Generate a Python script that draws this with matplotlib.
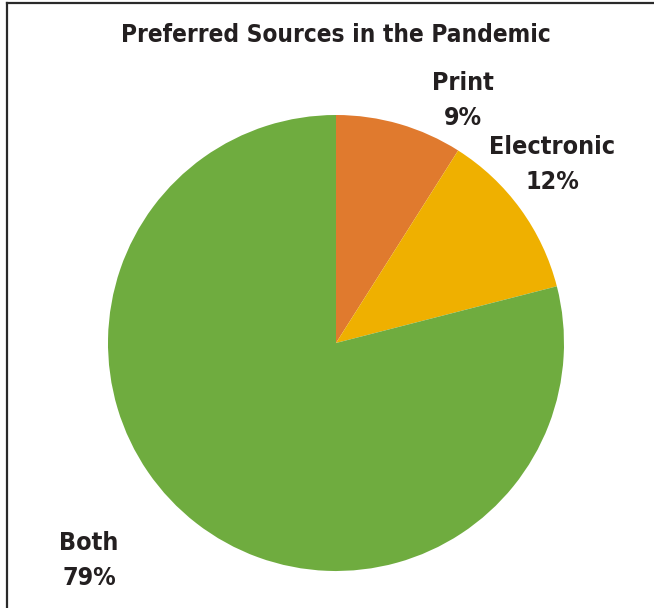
import matplotlib.pyplot as plt
from matplotlib.lines import Line2D

# Data
labels = ["Print", "Electronic", "Both"]
shares = [9, 12, 79]
colors = ["#E07A2E", "#EFB000", "#6FAC3F"]

W, H = 654, 608
fig = plt.figure(figsize=(W / 100, H / 100), dpi=100)
fig.patch.set_facecolor("white")

font = ["DejaVu Sans"]

# pie center (336, 343) px, radius 228 px
cx, cy, r = 336, 343, 228
ax = fig.add_axes([(cx - r) / W, (H - cy - r) / H, 2 * r / W, 2 * r / H])
ax.pie(shares, colors=colors, startangle=90, counterclock=False,
       wedgeprops=dict(linewidth=0))
ax.set_aspect("equal")
ax.set_xlim(-1, 1)
ax.set_ylim(-1, 1)
ax.axis("off")

# frame lines (top and left)
fig.add_artist(Line2D([7 / W, 1], [1 - 3 / H, 1 - 3 / H], color="#2a2a2a", lw=1.6,
                      transform=fig.transFigure))
fig.add_artist(Line2D([7 / W, 7 / W], [0, 1 - 3 / H], color="#2a2a2a", lw=1.6,
                      transform=fig.transFigure))

def px(x, y):
    return x / W, 1 - y / H

fig.text(*px(336, 35), "Preferred Sources in the Pandemic", ha="center", va="center",
         fontsize=17.5, fontweight="bold", fontstretch="condensed", family=font,
         color="#231F20")

# slice labels
label_pos = [(463, 83), (552, 147), (89, 543)]
for (x, y), lab, val in zip(label_pos, labels, shares):
    fig.text(*px(x, y), lab, ha="center", va="center", fontsize=18,
             fontweight="bold", fontstretch="condensed", family=font, color="#231F20")
    fig.text(*px(x, y + 35), f"{val}%", ha="center", va="center", fontsize=18,
             fontweight="bold", fontstretch="condensed", family=font, color="#231F20")

fig.savefig("out.png", dpi=100)
